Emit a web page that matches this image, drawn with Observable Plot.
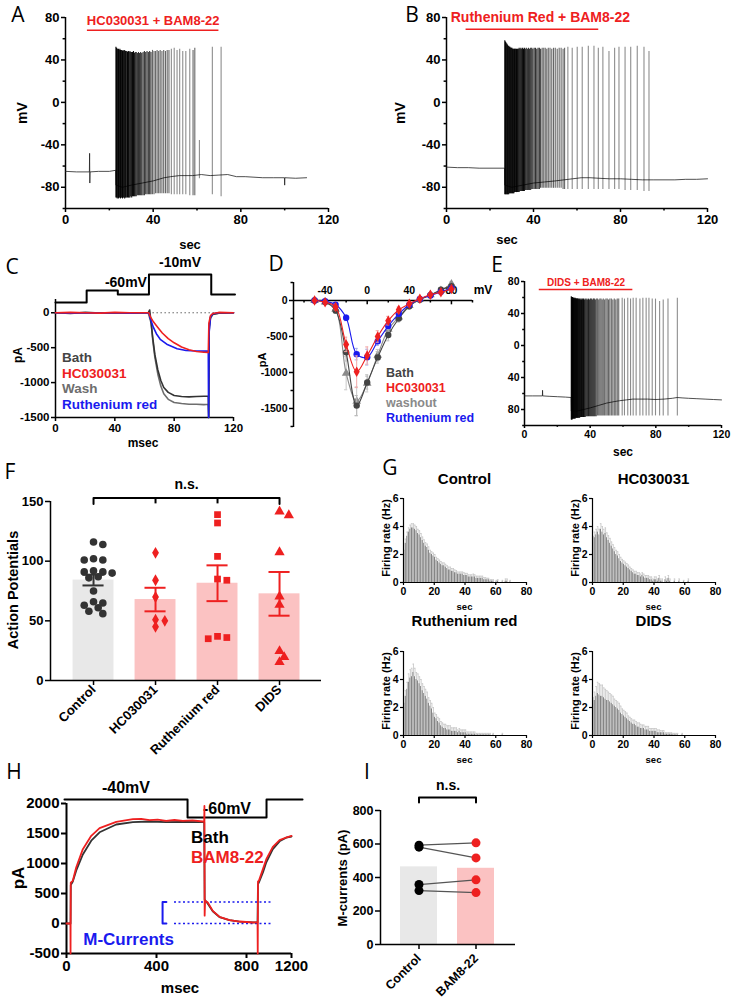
<!DOCTYPE html>
<html><head><meta charset="utf-8">
<script src="https://cdn.jsdelivr.net/npm/d3@7"></script>
<script src="https://cdn.jsdelivr.net/npm/@observablehq/plot@0.6"></script>
<style>
body{margin:0;background:#fff;}
#root{position:relative;width:733px;height:1000px;overflow:hidden;font-family:"Liberation Sans",Arial,sans-serif;background:#fff;}
.lbl{position:absolute;white-space:nowrap;line-height:1;}
</style></head><body><div id="root"></div>
<script>
// ================= DATA =================
// A, B, E : membrane potential traces. baseline [sec, mV]; spikes [sec, peak mV, trough mV]
const baseA = [[0,-65],[5,-65.5],[10.9,-65.5],[11,-48],[11.1,-76],[11.2,-65.5],[15,-65],[20,-65],[22.9,-64],[23,-78],[26,-80],[30,-78],[35,-76],[40,-74],[45,-71],[48,-70],[52,-69],[58,-69],[62,-68],[66,-69],[70,-68.5],[74,-68],[78,-70],[82,-70],[86,-70.5],[90,-71],[95,-71],[99.9,-71],[100,-78],[100.1,-71],[105,-71.5],[110,-71]];
const spikesA = [[23.0,52,-90],[23.3,51,-90],[23.6,50,-91],[23.9,50,-90],[24.2,50,-91],[24.5,49,-90],[24.8,50,-90],[25.1,49,-91],[25.4,49,-90],[25.7,49,-90],[26.0,48,-91],[26.3,49,-90],[26.6,48,-90],[27.0,49,-91],[27.3,48,-90],[27.6,48,-90],[28.0,48,-90],[28.3,47,-90],[28.7,48,-90],[29.0,47,-90],[29.4,48,-90],[29.8,47,-89],[30.2,47,-90],[30.6,47,-89],[31.0,48,-89],[31.4,46,-89],[31.8,47,-89],[32.3,47,-89],[32.8,46,-88],[33.3,47,-88],[33.8,46,-88],[34.3,47,-88],[34.8,46,-88],[35.4,47,-88],[36.0,48,-88],[36.6,47,-87],[37.2,48,-87],[37.8,47,-87],[38.4,48,-87],[39.0,47,-87],[39.7,49,-87],[40.4,48,-87],[41.1,48,-86],[41.8,49,-86],[42.5,48,-86],[43.2,49,-86],[44.0,48,-86],[44.8,49,-86],[45.6,48,-86],[46.4,49,-86],[47.2,49,-86],[48.3,50,-87],[49.6,51,-87],[50.9,49,-87],[52.1,50,-87],[53.5,48,-87],[54.9,48,-87],[56.7,50,-88],[58.2,49,-88],[59.0,51,-88],[61.1,-36,-72],[67.0,52,-87],[71.0,52,-89]];
const baseB = [[0,-61],[5,-61.5],[10,-61.5],[15,-62],[20,-62],[26.7,-62],[26.8,-78],[30,-80],[35,-78],[40,-76],[45,-75],[50,-74],[54,-73],[58,-72],[62,-71],[66,-71],[70,-71.5],[75,-72],[80,-72],[85,-72.5],[90,-73],[95,-73],[100,-73],[105,-73],[110,-72.5],[115,-72.5],[120,-72]];
const spikesB = [[26.8,58,-87],[27.1,57,-87],[27.4,56,-87],[27.7,55,-87],[28.0,54,-87],[28.3,53,-87],[28.6,53,-87],[28.9,52,-86],[29.2,52,-86],[29.5,51,-86],[29.8,51,-86],[30.1,51,-86],[30.4,50,-86],[30.7,50,-86],[31.0,50,-86],[31.3,50,-85],[31.6,50,-85],[31.9,50,-85],[32.2,50,-85],[32.6,50,-85],[33.0,50,-85],[33.4,51,-85],[33.8,50,-84],[34.2,51,-84],[34.6,50,-84],[35.0,51,-84],[35.4,50,-84],[35.8,51,-84],[36.2,50,-83],[36.7,51,-83],[37.2,50,-83],[37.7,51,-83],[38.2,50,-83],[38.7,51,-83],[39.2,51,-82],[39.7,50,-82],[40.3,51,-82],[40.9,51,-82],[41.5,50,-82],[42.1,51,-82],[42.7,51,-82],[43.3,50,-81],[44.0,51,-81],[44.7,51,-81],[45.4,51,-81],[46.1,50,-81],[46.8,51,-81],[47.6,51,-81],[48.4,50,-81],[49.2,51,-81],[50.0,51,-81],[50.9,50,-81],[51.8,51,-81],[52.7,51,-81],[53.6,50,-82],[54.3,51,-82],[55.8,52,-82],[57.8,51,-82],[60.1,52,-82],[62.4,52,-82],[65.2,53,-82],[67.8,53,-82],[69.8,51,-82],[71.9,52,-82],[74.7,48,-82],[77.3,51,-82],[79.3,52,-82],[82.1,52,-83],[84.7,52,-83],[87.7,53,-83],[90.8,52,-84],[93.1,48,-84]];
const baseE = [[0,-63],[5,-63],[10.9,-63],[11,-56],[11.1,-63],[15,-63.5],[20,-64],[25,-64.5],[28.4,-65],[28.5,-82],[32,-82],[36,-80],[40,-78],[45,-75],[50,-72],[55,-70],[58,-69],[62,-68],[66,-67],[70,-67],[75,-67],[80,-67.5],[85,-67],[90,-66],[93,-65],[96,-65.5],[100,-66],[105,-66.5],[110,-67],[115,-67.5],[120,-68]];
const spikesE = [[28.5,61,-93],[28.75,60,-93],[29.0,60,-93],[29.25,60,-92],[29.5,59,-92],[29.75,59,-92],[30.0,59,-92],[30.3,59,-92],[30.6,58,-92],[30.9,59,-92],[31.2,58,-91],[31.5,58,-91],[31.8,58,-91],[32.1,58,-91],[32.4,58,-91],[32.8,58,-91],[33.2,57,-91],[33.6,58,-91],[34.0,57,-90],[34.4,58,-90],[34.8,57,-90],[35.2,58,-90],[35.6,57,-90],[36.0,58,-90],[36.5,57,-90],[37.0,58,-90],[37.5,57,-89],[38.0,58,-89],[38.5,57,-89],[39.0,58,-89],[39.5,57,-89],[40.1,58,-89],[40.7,58,-89],[41.3,57,-89],[41.9,58,-89],[42.5,58,-89],[43.1,57,-89],[43.8,58,-89],[44.5,58,-88],[45.2,57,-88],[45.9,58,-88],[46.6,58,-88],[47.3,57,-88],[48.0,58,-88],[48.8,57,-88],[49.6,58,-88],[50.4,58,-88],[51.2,57,-88],[52.0,58,-88],[52.9,58,-88],[53.8,57,-88],[54.7,58,-88],[55.6,57,-88],[56.5,58,-88],[57.4,58,-88],[59.5,59,-88],[60.9,58,-88],[62.9,59,-88],[64.6,58,-88],[66.2,59,-88],[68.0,59,-88],[70.3,58,-88],[72.1,59,-88],[74.1,59,-88],[75.8,59,-88],[77.8,58,-88],[79.8,58,-88],[82.3,55,-88],[84.5,57,-88],[87.4,58,-88],[93.1,59,-88]];
const drugLabels = ["HC030031 + BAM8-22", "Ruthenium Red + BAM8-22", "DIDS + BAM8-22"];
const drugStart = [10, 9, 9];
const drugEnd = [70, 70, 66];

// C : voltage protocol and currents [msec, pA]
const protoCt = [0, 21, 42, 63, 105, 121];
const protoCv = [-80, -50, -60, -10, -60, -60];
const cBath = [[0,0],[10,-10],[20,5],[30,-5],[40,0],[50,-5],[62.5,0],[63.5,40],[64.5,-150],[65.5,-350],[67,-600],[69,-820],[71,-970],[73,-1070],[76,-1140],[80,-1185],[85,-1200],[90,-1205],[95,-1200],[100,-1195],[103,-1195],[103.3,-1500],[103.6,-200],[104.5,-60],[106,-20],[110,-5],[120,0]];
const cWash = [[0,0],[62.5,0],[64.5,-150],[65.5,-380],[67,-640],[69,-880],[71,-1050],[73,-1160],[76,-1240],[80,-1285],[85,-1300],[90,-1310],[95,-1310],[100,-1315],[103,-1310],[103.3,-1500],[103.6,-250],[104.5,-80],[106,-25],[110,-5],[120,0]];
const cHC = [[0,0],[10,5],[20,0],[30,-5],[40,5],[50,0],[63,0],[64,-60],[66,-130],[69,-210],[72,-290],[76,-370],[80,-430],[85,-490],[90,-530],[95,-555],[100,-565],[103,-570],[103.4,-150],[104.5,-40],[106,-10],[110,5],[120,0]];
const cRR = [[0,0],[10,-5],[20,0],[30,-5],[40,0],[50,-5],[63,0],[64,-90],[66,-210],[68,-300],[70.6,-380],[75,-450],[82,-515],[88,-540],[95,-548],[103,-550],[103.2,-1500],[103.5,-300],[104.5,-60],[106,-15],[110,0],[120,0]];

// D : I-V relationship (mV, pA, SEM)
const ivV = [-50,-40,-30,-20,-10,0,10,20,30,40,50,60,70,80];
const ivBath = [0,-20,-140,-720,-1460,-1140,-790,-480,-250,-80,10,75,150,200];
const ivBathSem = [10,15,40,120,140,90,80,80,50,40,30,30,30,30];
const ivHC = [0,-23,-90,-610,-990,-765,-500,-280,-130,-46,23,80,115,160];
const ivHCSem = [10,15,40,100,220,120,80,60,40,30,30,20,20,20];
const ivWash = [0,-20,-120,-1010,-1400,-1150,-760,-400,-230,-70,15,80,140,230];
const ivWashSem = [10,15,40,230,200,120,80,60,40,30,30,30,30,30];
const ivRR = [0,-10,-60,-240,-745,-787,-565,-355,-185,-60,20,70,120,170];
const ivRRSem = [10,10,20,40,80,110,60,40,30,20,20,20,20,20];

// F : action potential counts per cell
const fNames = ["Control", "HC030031", "Ruthenium red", "DIDS"];
const fControl = [116,114,102,101,101,92,91,91,90,87,86,75,66,65,63,61,58,56];
const fHC = [107,84,70,51,50,45];
const fRR = [139,132,104,85,84,37,35,36];
const fDIDS = [138.5,141.6,107.5,63.4,70.4,24.6,15.4,19.6];

// G : firing rate histograms (1-s bins, Hz) and SEM
const gTitles = ["Control", "HC030031", "Ruthenium red", "DIDS"];
const gControl = [2.0,2.8,3.3,3.6,3.8,3.9,3.9,3.8,3.7,3.5,3.4,3.2,3.0,2.8,2.6,2.5,2.3,2.1,2.0,1.9,1.8,1.6,1.5,1.4,1.3,1.2,1.2,1.1,1.0,0.9,0.9,0.8,0.8,0.7,0.7,0.6,0.6,0.6,0.6,0.5,0.5,0.5,0.4,0.4,0.4,0.4,0.4,0.3,0.3,0.3,0.3,0.3,0.2,0.2,0.2,0.2,0.1,0.1,0.1,0,0.05,0.1,0,0,0.05,0,0.1,0.1,0,0.05];
const gControlSem = [0.3,0.3,0.3,0.3,0.3,0.3,0.3,0.3,0.3,0.3,0.3,0.3,0.25,0.25,0.25,0.25,0.25,0.2,0.2,0.2,0.2,0.2,0.2,0.2,0.2,0.2,0.2,0.2,0.2,0.2,0.2,0.2,0.2,0.2,0.15,0.15,0.15,0.15,0.15,0.2,0.15,0.15,0.15,0.15,0.15,0.2,0.15,0.15,0.15,0.15,0.15,0.15,0.15,0.15,0.1,0.1,0.1,0.1,0.1,0,0.1,0.1,0,0,0.1,0,0.15,0.15,0,0.1];
const gHC = [2.9,3.2,3.4,3.6,3.4,3.8,3.6,3.4,3.5,3.2,3.0,2.8,2.6,2.4,2.2,2.0,1.9,1.7,1.5,1.4,1.3,1.2,1.1,1.0,0.9,0.8,0.7,0.6,0.6,0.5,0.5,0.4,0.5,0.4,0.3,0.3,0.3,0.2,0.2,0.1,0.2,0.2,0.1,0.3,0.1,0.1,0,0.2,0.1,0.3,0.1,0,0,0.1,0,0,0.1,0,0,0.05,0,0,0.1,0];
const gHCSem = [0.4,0.4,0.4,0.4,0.4,0.4,0.4,0.4,0.4,0.35,0.35,0.35,0.3,0.3,0.3,0.3,0.3,0.3,0.3,0.25,0.25,0.25,0.25,0.25,0.2,0.2,0.2,0.2,0.2,0.2,0.2,0.2,0.2,0.2,0.2,0.2,0.2,0.2,0.2,0.15,0.2,0.2,0.15,0.2,0.15,0.15,0,0.2,0.15,0.2,0.15,0,0,0.15,0,0,0.15,0,0,0.1,0,0,0.15,0];
const gRR = [2.0,2.8,3.3,3.8,4.1,4.2,4.5,4.2,4.0,3.9,3.7,3.5,3.2,3.0,2.8,2.6,2.3,2.1,1.9,1.6,1.3,1.2,1.0,0.9,0.7,0.6,0.5,0.5,0.4,0.4,0.4,0.3,0.3,0.3,0.3,0.2,0.3,0.2,0.2,0.2,0.2,0.1,0.1,0.1,0.1,0.1,0.1,0.05,0.05,0.05,0.05,0.05,0.05,0.05,0.05,0.05,0.05,0,0.05,0,0,0,0,0,0.05,0];
const gRRSem = [0.3,0.4,0.5,0.6,0.6,0.6,0.6,0.6,0.5,0.5,0.5,0.5,0.5,0.5,0.5,0.5,0.4,0.4,0.4,0.4,0.3,0.3,0.3,0.3,0.3,0.3,0.3,0.3,0.3,0.3,0.3,0.25,0.25,0.25,0.25,0.2,0.2,0.2,0.2,0.2,0.2,0.15,0.15,0.15,0.15,0.15,0.15,0.1,0.1,0.1,0.1,0.1,0.1,0.1,0.1,0.1,0.1,0,0.1,0,0,0,0,0,0.1,0];
const gDIDS = [2.3,2.5,2.8,3.0,2.9,2.8,2.8,2.7,2.6,2.5,2.5,2.4,2.3,2.2,2.1,2.0,1.9,1.8,1.6,1.5,1.4,1.3,1.2,1.1,1.0,0.9,0.8,0.8,0.7,0.6,0.6,0.5,0.5,0.5,0.4,0.4,0.4,0.3,0.3,0.3,0.3,0.3,0.2,0.2,0.2,0.2,0.2,0.1,0.1,0.1,0.1,0.1,0.05,0.05,0.05,0.05,0,0,0.05,0,0,0,0,0,0,0];
const gDIDSSem = [0.4,0.6,0.7,0.8,0.8,0.8,0.8,0.7,0.7,0.7,0.6,0.6,0.6,0.6,0.5,0.5,0.5,0.5,0.5,0.4,0.4,0.4,0.4,0.3,0.3,0.3,0.3,0.3,0.3,0.3,0.3,0.3,0.25,0.25,0.25,0.25,0.25,0.2,0.2,0.2,0.2,0.2,0.2,0.2,0.15,0.15,0.15,0.1,0.1,0.1,0.1,0.1,0.1,0.1,0.1,0.1,0,0,0.1,0,0,0,0,0,0,0];

// H : M-current protocol and traces [msec, pA]
const protoHt = [-9, 538, 889, 1049];
const protoHv = [-40, -60, -40, -40];
const hBath = [[0,0],[16,0],[18,0],[19,640],[28,700],[43,880],[72.6,1150],[110,1380],[147,1520],[221,1650],[295,1690],[369,1700],[443,1690],[517,1695],[606,1690],[612,1690],[614,400],[628,330],[650,205],[680,108],[724,55],[769,32],[828,18],[849,18],[851,650],[857,700],[873,850],[888,1020],[917,1240],[947,1370],[976,1430],[1000,1450]];
const hBam = [[0,0],[16,0],[17.5,0],[18,-500],[18.8,680],[28,711],[43,933],[72.6,1239],[110,1461],[147,1589],[221,1694],[295,1739],[332,1745],[369,1722],[405,1730],[443,1711],[480,1725],[517,1711],[560,1720],[606,1700],[612,1700],[613,1960],[614,130],[616,380],[628,350],[650,211],[680,111],[724,56],[769,33],[828,17],[849,20],[850,-500],[851,700],[855,711],[873,906],[888,1072],[917,1278],[947,1389],[976,1433],[1000,1461]];
const mLevels = [0, 360];
const hTicks = [0, 400, 800, 1000];
const hTickLabels = ["0", "400", "800", "1200"];

// I : M-currents (pA), paired cells
const iNames = ["Control", "BAM8-22"];
const iControl = [593, 581, 358, 322];
const iBam = [607, 517, 386, 310];

// ================= HELPERS =================
const root = document.getElementById("root");
const FONT = '"Liberation Sans", Arial, Helvetica, sans-serif';
const RED = "#ee2020", BLUE = "#1a1aee";
function addPlot(box, spec) {
  const m = Object.assign({l: 40, r: 10, t: 10, b: 25}, box.m || {});
  const svg = Plot.plot(Object.assign({
    width: box.x1 - box.x0 + m.l + m.r,
    height: box.y1 - box.y0 + m.t + m.b,
    marginLeft: m.l, marginRight: m.r, marginTop: m.t, marginBottom: m.b,
    style: {background: "transparent", fontFamily: FONT, fontSize: (box.fs || 12) + "px", fontWeight: "bold", color: "#000", overflow: "visible", maxWidth: "none"}
  }, spec));
  svg.style.position = "absolute";
  svg.style.left = (box.x0 - m.l) + "px";
  svg.style.top = (box.y0 - m.t) + "px";
  root.appendChild(svg);
  return svg;
}
function label(text, x, y, o = {}) {
  const d = document.createElement("div");
  d.className = "lbl";
  d.textContent = text;
  d.style.left = x + "px"; d.style.top = y + "px";
  d.style.fontSize = (o.size || 13) + "px";
  d.style.fontWeight = o.weight || "bold";
  d.style.color = o.color || "#000";
  d.style.fontFamily = o.family || FONT;
  const tx = o.anchor === "start" ? "0" : "-50%";
  d.style.transform = `translate(${tx},-50%)` + (o.rot ? ` rotate(${o.rot}deg)` : "");
  root.appendChild(d);
}
const fmt = d => String(d);
function axes(o) {
  const ts = o.ts ?? 4, sw = o.sw ?? 1.5;
  const m = [];
  if (o.x) m.push(Plot.axisX({ticks: o.x, tickSize: ts, tickPadding: o.tpx ?? 2, tickFormat: o.xf || fmt, label: null, strokeWidth: sw, tickRotate: o.rot || 0}));
  if (o.xm) m.push(Plot.axisX({ticks: o.xm, tickSize: ts * 0.6, tickFormat: () => "", label: null, strokeWidth: sw}));
  if (o.y) m.push(Plot.axisY({ticks: o.y, tickSize: ts, tickPadding: o.tpy ?? 2, tickFormat: o.yf || fmt, label: null, strokeWidth: sw}));
  if (o.ym) m.push(Plot.axisY({ticks: o.ym, tickSize: ts * 0.6, tickFormat: () => "", label: null, strokeWidth: sw}));
  if (o.x0 !== undefined) m.push(Plot.ruleX([o.x0], {strokeWidth: sw}));
  if (o.y0 !== undefined) m.push(Plot.ruleY([o.y0], {strokeWidth: sw}));
  return m;
}
const X0 = d => d[0], Y1 = d => d[1];

// ================= PANELS A, B, E =================
// spike line opacity follows local firing density (dense bursts look black, isolated spikes grey)
function spikeOpacity(spikes) {
  return spikes.map((s, i) => {
    const gp = i > 0 ? s[0] - spikes[i - 1][0] : 99;
    const gn = i < spikes.length - 1 ? spikes[i + 1][0] - s[0] : 99;
    const g = Math.min(gp, gn);
    return g < 0.45 ? 0.95 : g < 0.65 ? 0.8 : g < 1 ? 0.6 : 0.45;
  });
}
function tracePanel(box, base, spikes, k, ax, textY, barY, fsz, dxT, yfmt) {
  const op = spikeOpacity(spikes);
  addPlot(box, {
    x: {domain: [0, 120]}, y: {domain: [-100, 80]},
    marks: [
      ...axes(Object.assign({x: [0, 40, 80, 120], xm: [20, 60, 100], y: [-80, -40, 0, 40, 80], ym: [-100, -60, -20, 20, 60], x0: 0, y0: -100, yf: yfmt}, ax)),
      Plot.line(base, {x: X0, y: Y1, stroke: "#222", strokeWidth: 0.8}),
      Plot.ruleX(spikes, {x: X0, y1: d => d[2], y2: d => d[1], stroke: "#000", strokeWidth: 1.1, strokeOpacity: (d, i) => op[i]}),
      Plot.ruleY([barY], {x1: drugStart[k], x2: drugEnd[k], stroke: RED, strokeWidth: 1.5}),
      Plot.text([drugLabels[k]], {x: (drugStart[k] + drugEnd[k]) / 2, dx: dxT, y: textY, text: d => d, fill: RED, fontSize: fsz, fontWeight: "bold"})
    ]
  });
}
tracePanel({x0: 65, x1: 328, y0: 17, y1: 208, m: {l: 40, r: 10, t: 12, b: 24}, fs: 13}, baseA, spikesA, 0, {}, 77, 68, 13, 0);
tracePanel({x0: 446, x1: 707, y0: 17, y1: 208, m: {l: 40, r: 10, t: 12, b: 24}, fs: 13}, baseB, spikesB, 1, {}, 80, 69, 14, 8);
tracePanel({x0: 524, x1: 721, y0: 281, y1: 425, m: {l: 30, r: 10, t: 8, b: 20}, fs: 10.5}, baseE, spikesE, 2, {ts: 3}, 78.7, 70, 10, 0, d => String(Math.abs(d)));

// ================= PANEL C =================
const protoC = protoCt.map((t, i) => [t, protoCv[i]]);
addPlot({x0: 55, x1: 233, y0: 258, y1: 306, m: {l: 5, r: 5, t: 5, b: 5}, fs: 14}, {
  x: {domain: [0, 120], axis: null}, y: {domain: [-90, 30], axis: null},
  marks: [
    Plot.line(protoC, {x: X0, y: Y1, curve: "step-after", stroke: "#000", strokeWidth: 2}),
    Plot.text([protoC[2]], {x: protoC[3][0], y: Y1, dx: -2, dy: -12, text: d => d[1] + "mV", textAnchor: "end", fontSize: 14}),
    Plot.text([protoC[3]], {x: d => (protoC[3][0] + protoC[4][0]) / 2, y: Y1, dy: -12, text: d => d[1] + "mV", fontSize: 14})
  ]
});
addPlot({x0: 55, x1: 233, y0: 299, y1: 417, m: {l: 45, r: 10, t: 5, b: 22}, fs: 11.5}, {
  x: {domain: [0, 120]}, y: {domain: [-1500, 190]},
  marks: [
    ...axes({x: [0, 40, 80, 120], y: [0, -500, -1000, -1500], x0: 0, y0: -1500}),
    Plot.ruleY([0], {x1: protoCt[3], x2: 120, stroke: "#666", strokeDasharray: "1.5,2.5", strokeWidth: 1}),
    Plot.line(cWash, {x: X0, y: Y1, stroke: "#6e6e6e", strokeWidth: 1.6}),
    Plot.line(cBath, {x: X0, y: Y1, stroke: "#333", strokeWidth: 1.6}),
    Plot.line(cRR, {x: X0, y: Y1, stroke: BLUE, strokeWidth: 1.6}),
    Plot.line(cHC, {x: X0, y: Y1, stroke: RED, strokeWidth: 1.6})
  ]
});
label("Bath", 62, 358, {size: 13.5, color: "#444", anchor: "start"});
label("HC030031", 62, 374, {size: 13.5, color: RED, anchor: "start"});
label("Wash", 62, 389, {size: 13.5, color: "#6e6e6e", anchor: "start"});
label("Ruthenium red", 62, 405, {size: 13.5, color: BLUE, anchor: "start"});

// ================= PANEL D =================
const ivSets = [
  {v: ivWash, s: ivWashSem, c: "#8a8a8a", e: "#c8c8c8", sym: "triangle"},
  {v: ivBath, s: ivBathSem, c: "#444", e: "#b8b8b8", sym: "circle"},
  {v: ivRR, s: ivRRSem, c: BLUE, e: "#a8b0e8", sym: "circle"},
  {v: ivHC, s: ivHCSem, c: RED, e: "#f2a8a8", sym: "diamond"}
];
const dMarks = [];
for (const set of ivSets) {
  const pts = ivV.map((x, i) => ({x, y: set.v[i], s: set.s[i]}));
  dMarks.push(
    Plot.ruleX(pts, {x: "x", y1: d => d.y - d.s, y2: d => d.y + d.s, stroke: set.e, strokeWidth: 1}),
    Plot.ruleY(pts, {y: d => d.y + d.s, x1: d => d.x - 1.5, x2: d => d.x + 1.5, stroke: set.e, strokeWidth: 1}),
    Plot.ruleY(pts, {y: d => d.y - d.s, x1: d => d.x - 1.5, x2: d => d.x + 1.5, stroke: set.e, strokeWidth: 1}),
    Plot.line(pts, {x: "x", y: "y", stroke: set.c, strokeWidth: 1.1, curve: "catmull-rom"}),
    Plot.dot(pts, {x: "x", y: "y", fill: set.c, symbol: set.sym, r: 3.2})
  );
}
const dMajor = [-40, 0, 40, 80], dMinor = [-60, -20, 20, 60, 100];
addPlot({x0: 293, x1: 472, y0: 282, y1: 427, m: {l: 40, r: 14, t: 4, b: 4}, fs: 10.5}, {
  x: {domain: [-70, 100], axis: null}, y: {domain: [-1764, 250]},
  marks: [
    Plot.axisY({ticks: [0, -500, -1000, -1500], tickSize: 4, tickPadding: 2, tickFormat: fmt, label: null, strokeWidth: 1.5}),
    Plot.axisY({ticks: [250, -250, -750, -1250, -1750], tickSize: 2.5, tickFormat: () => "", label: null, strokeWidth: 1.5}),
    Plot.ruleX([-70], {strokeWidth: 1.5}),
    Plot.ruleY([0], {strokeWidth: 1.5}),
    Plot.ruleX(dMajor, {x: d => d, y1: 0, y2: -60, strokeWidth: 1.5}),
    Plot.ruleX(dMinor, {x: d => d, y1: 0, y2: -35, strokeWidth: 1.5}),
    Plot.text(dMajor, {x: d => d, y: 0, dy: -10, text: fmt, fontSize: 10.5}),
    ...dMarks
  ]
});
label("Bath", 386, 373, {size: 12.5, color: "#444", anchor: "start"});
label("HC030031", 386, 388, {size: 12.5, color: RED, anchor: "start"});
label("washout", 386, 403, {size: 12.5, color: "#8a8a8a", anchor: "start"});
label("Ruthenium red", 386, 418, {size: 12.5, color: BLUE, anchor: "start"});

// ================= PANEL F =================
function swarm(vals, i, r) {
  const placed = [], out = new Array(vals.length);
  const order = vals.map((v, k) => k).sort((a, b) => vals[b] - vals[a]);
  for (const k of order) {
    const v = vals[k];
    let off = 0;
    for (let j = 0; j < 40; j++) {
      const c = j === 0 ? 0 : (j % 2 ? 1 : -1) * Math.ceil(j / 2) * 0.075;
      if (placed.every(p => Math.hypot((p.o - c) * 62, (p.v - v) * 1.193) >= 2 * r - 1)) { off = c; break; }
    }
    placed.push({o: off, v});
    out[k] = {x: i + off, v};
  }
  return out;
}
const fSets = [fControl, fHC, fRR, fDIDS];
const fStats = fSets.map((vals, i) => ({i, mean: d3.mean(vals), sem: d3.deviation(vals) / Math.sqrt(vals.length)}));
const fBarColor = ["#e8e8e8", "#fbc2c2", "#fbc2c2", "#fbc2c2"];
const fErrColor = ["#333", RED, RED, RED];
const fSym = ["circle", "diamond", "square", "triangle"];
const fR = [3.8, 3.6, 3.8, 3.8];
const fMarks = [];
fSets.forEach((vals, i) => {
  fMarks.push(Plot.dot(swarm(vals, i, fR[i]), {x: "x", y: "v", r: fR[i], symbol: fSym[i], fill: i === 0 ? "#333" : RED}));
});
addPlot({x0: 50, x1: 321, y0: 501, y1: 680, m: {l: 34, r: 8, t: 30, b: 70}, fs: 13}, {
  x: {domain: [-0.694, 3.677]}, y: {domain: [0, 150]},
  marks: [
    Plot.rectY(fStats, {x1: d => d.i - 0.33, x2: d => d.i + 0.33, y: "mean", fill: (d) => fBarColor[d.i]}),
    ...axes({x: [0, 1, 2, 3], xf: i => fNames[i], rot: -45, y: [0, 50, 100, 150], x0: -0.694, y0: 0, ts: 5}),
    ...fMarks,
    Plot.ruleX(fStats, {x: "i", y1: d => d.mean - d.sem, y2: d => d.mean + d.sem, stroke: d => fErrColor[d.i], strokeWidth: 2}),
    Plot.ruleY(fStats, {y: d => d.mean + d.sem, x1: d => d.i - 0.17, x2: d => d.i + 0.17, stroke: d => fErrColor[d.i], strokeWidth: 2}),
    Plot.ruleY(fStats, {y: d => d.mean - d.sem, x1: d => d.i - 0.17, x2: d => d.i + 0.17, stroke: d => fErrColor[d.i], strokeWidth: 2}),
    Plot.line([[0, 148], [0, 153], [3, 153], [3, 148]], {x: X0, y: Y1, strokeWidth: 2}),
    Plot.ruleX([1, 2], {x: d => d, y1: 148, y2: 153, strokeWidth: 2}),
    Plot.text(["n.s."], {x: 1.5, y: 164, text: d => d, fontSize: 14})
  ]
});
label("Action Potentials", 13, 590, {size: 14.5, rot: -90});

// ================= PANEL G =================
function histPanel(box, rates, sems) {
  const d = rates.map((v, t) => ({t, v, s: sems[t]}));
  const e = d.filter(q => q.s > 0);
  addPlot(box, {
    x: {domain: [0, 80]}, y: {domain: [0, 6]},
    marks: [
      Plot.ruleX(e, {x: q => q.t + 0.5, y1: "v", y2: q => q.v + q.s, stroke: "#c4c4c4", strokeWidth: 0.8}),
      Plot.ruleY(e, {y: q => q.v + q.s, x1: q => q.t + 0.1, x2: q => q.t + 0.9, stroke: "#c4c4c4", strokeWidth: 0.8}),
      Plot.rectY(d, {x1: "t", x2: q => q.t + 1, y: "v", fill: "#858585", insetLeft: 0.2, insetRight: 0.2}),
      ...axes({x: [0, 20, 40, 60, 80], y: [0, 2, 4, 6], x0: 0, y0: 0, ts: 3, sw: 1.2})
    ]
  });
}
const gBoxes = [[403, 526, 498, 582, 478], [592, 715, 498, 582, 478], [403, 526, 651, 735, 620], [592, 715, 651, 735, 620]];
[[gControl, gControlSem], [gHC, gHCSem], [gRR, gRRSem], [gDIDS, gDIDSSem]].forEach(([r, s], k) => {
  const [x0, x1, y0, y1, ty] = gBoxes[k];
  histPanel({x0, x1, y0, y1, m: {l: 16, r: 8, t: 6, b: 16}, fs: 10.5}, r, s);
  label(gTitles[k], (x0 + x1) / 2, ty, {size: 15});
  label("Firing rate (Hz)", x0 - 17, (y0 + y1) / 2 - 2, {size: 11, rot: -90});
  label("sec", (x0 + x1) / 2, y1 + 25, {size: 9.5});
});

// ================= PANEL H =================
const protoH = protoHt.map((t, i) => [t, protoHv[i]]);
addPlot({x0: 66, x1: 291, y0: 772, y1: 826, m: {l: 5, r: 20, t: 5, b: 5}, fs: 16}, {
  x: {domain: [0, 1000], axis: null}, y: {domain: [-70, -10], axis: null},
  marks: [
    Plot.line(protoH, {x: X0, y: Y1, curve: "step-after", stroke: "#000", strokeWidth: 2}),
    Plot.text([protoH[0]], {x: (protoH[0][0] + protoH[1][0]) / 2, y: Y1, dy: -12, text: d => d[1] + "mV", fontSize: 16}),
    Plot.text([protoH[1]], {x: (protoH[1][0] + protoH[2][0]) / 2, y: Y1, dy: -9, text: d => d[1] + "mV", fontSize: 16})
  ]
});
addPlot({x0: 66, x1: 291, y0: 803, y1: 953, m: {l: 55, r: 10, t: 6, b: 25}, fs: 15}, {
  x: {domain: [0, 1000]}, y: {domain: [-500, 2000]},
  marks: [
    ...axes({x: hTicks, xf: (d) => hTickLabels[hTicks.indexOf(d)], y: [-500, 0, 500, 1000, 1500, 2000], x0: 0, y0: -500, ts: 5, sw: 2}),
    Plot.ruleY(mLevels, {x1: 480, x2: 916, stroke: BLUE, strokeDasharray: "2,2.5", strokeWidth: 1.5}),
    Plot.line([[444, mLevels[0]], [427, mLevels[0]], [427, mLevels[1]], [444, mLevels[1]]], {x: X0, y: Y1, stroke: BLUE, strokeWidth: 2}),
    Plot.line(hBath, {x: X0, y: Y1, stroke: "#333", strokeWidth: 1.8}),
    Plot.line(hBam, {x: X0, y: Y1, stroke: RED, strokeWidth: 1.8}),
    Plot.text(["M-Currents"], {x: 276, y: -272, text: d => d, fill: BLUE, fontSize: 17})
  ]
});
label("Bath", 191, 837, {size: 17, anchor: "start"});
label("BAM8-22", 191, 857, {size: 17, color: RED, anchor: "start"});
label("pA", 18, 878, {size: 17, rot: -90});
label("msec", 180, 987, {size: 15});

// ================= PANEL I =================
const iStats = [iControl, iBam].map((v, k) => ({name: iNames[k], mean: d3.mean(v)}));
const iPairs = iControl.map((c, k) => ({c, b: iBam[k]}));
addPlot({x0: 380, x1: 515, y0: 810, y1: 944, m: {l: 40, r: 8, t: 40, b: 60}, fs: 12.5}, {
  x: {domain: iNames, paddingInner: 0.345, paddingOuter: 0.337}, y: {domain: [0, 800]},
  marks: [
    Plot.barY(iStats, {x: "name", y: "mean", fill: (d) => d.name === "Control" ? "#e8e8e8" : "#fbc2c2"}),
    Plot.axisX({tickSize: 5, tickRotate: -45, label: null, strokeWidth: 1.5, fontSize: 12.5}),
    Plot.axisY({ticks: [0, 200, 400, 600, 800], tickSize: 5, tickPadding: 2, tickFormat: fmt, label: null, strokeWidth: 1.5}),
    Plot.ruleY([0], {strokeWidth: 1.5}),
    Plot.link(iPairs, {x1: () => iNames[0], x2: () => iNames[1], y1: "c", y2: "b", stroke: "#555", strokeWidth: 1.2}),
    Plot.dot(iControl, {x: () => iNames[0], y: d => d, r: 4.5, fill: "#000"}),
    Plot.dot(iBam, {x: () => iNames[1], y: d => d, r: 4.5, fill: RED}),
    Plot.line([[iNames[0], 848], [iNames[0], 877], [iNames[1], 877], [iNames[1], 848]], {x: X0, y: Y1, strokeWidth: 2}),
    Plot.text(["n.s."], {x: () => iNames[0], dx: 29, y: 949, text: d => d, fontSize: 14})
  ]
});
// y axis line of I, drawn in a plot sharing the same frame
addPlot({x0: 380, x1: 515, y0: 810, y1: 944, m: {l: 2, r: 2, t: 2, b: 2}}, {
  x: {domain: [0, 1], axis: null}, y: {domain: [0, 800], axis: null},
  marks: [Plot.ruleX([0], {strokeWidth: 1.5})]
});
label("M-currents (pA)", 342, 878, {size: 13, rot: -90});

// ================= AXIS TITLES & PANEL LETTERS =================
label("mV", 22, 113, {size: 14, rot: -90});
label("sec", 190, 244, {size: 13});
label("mV", 400, 113, {size: 14, rot: -90});
label("sec", 507, 239, {size: 13});
label("pA", 18, 355, {size: 12, rot: -90});
label("msec", 143, 443, {size: 12});
label("pA", 262, 360, {size: 11, rot: -90});
label("mV", 483, 290, {size: 12});
label("sec", 623, 452, {size: 12});
const letters = [["A", 18, 14], ["B", 412, 14], ["C", 12, 266], ["D", 276, 263], ["E", 497, 264], ["F", 10, 471], ["G", 390, 467], ["H", 14, 771], ["I", 367, 771]];
for (const [t, x, y] of letters) label(t, x, y, {size: 21, weight: "normal", family: '"Open Sans", "DejaVu Sans", sans-serif'});
</script></body></html>
